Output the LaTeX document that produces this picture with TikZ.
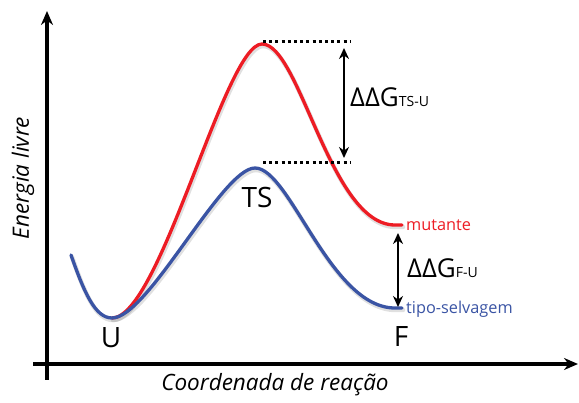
\documentclass[tikz,border=0pt]{standalone}
\usepackage{fontspec}
\setmainfont{Open Sans}
\usetikzlibrary{arrows.meta}
\definecolor{curvered}{RGB}{237,28,36}
\definecolor{curveblue}{RGB}{58,84,164}
\begin{document}
\begin{tikzpicture}[x=1pt,y=-1pt,
  axis/.style={line width=3.2pt,-{Stealth[length=14pt,width=12pt]}},
  dim/.style={line width=2.8pt,{Stealth[length=11pt,width=10pt]}-{Stealth[length=11pt,width=10pt]}},
  guide/.style={line width=3pt,dash pattern=on 3pt off 3.2pt},
  curve/.style={line width=3.3pt,line cap=round,line join=round},
  shade/.style={line width=4.5pt,black,opacity=0.12,line cap=round},
  big/.style={font=\fontsize{28}{30}\selectfont,inner sep=0pt},
  small/.style={font=\fontsize{16.3}{18}\selectfont,inner sep=0pt},
  axlabel/.style={font=\fontsize{22.5}{24}\selectfont\itshape,inner sep=0pt}]
\useasboundingbox (0,0) rectangle (579,403);
% axes
\coordinate (yb) at (47,380);
\coordinate (yt) at (47,11);
\coordinate (xl) at (33,364);
\coordinate (xr) at (578,364);
\draw[axis] (yb) -- (yt);
\draw[axis] (xl) -- (xr);
% shadows
\begin{scope}[shift={(1,2)}]
\draw[shade] (112,318) .. controls (160,318) and (225,44) .. (262,44)
   .. controls (300,44) and (330,225) .. (395,225) -- (402,225);
\draw[shade] (71,255) .. controls (84,292) and (95,318) .. (112,318)
   .. controls (148,318) and (222,168) .. (255,168)
   .. controls (290,168) and (330,308) .. (395,308) -- (402,308);
\end{scope}
% curves
\draw[curve,curvered] (112,318) .. controls (160,318) and (225,44) .. (262,44)
   .. controls (300,44) and (330,225) .. (395,225) -- (402,225);
\draw[curve,curveblue] (71,255) .. controls (84,292) and (95,318) .. (112,318)
   .. controls (148,318) and (222,168) .. (255,168)
   .. controls (290,168) and (330,308) .. (395,308) -- (402,308);
% guides
\coordinate (g1a) at (263,42);
\coordinate (g1b) at (350,42);
\coordinate (g2a) at (263,163);
\coordinate (g2b) at (350,163);
\draw[guide] (g1a) -- (g1b);
\draw[guide] (g2a) -- (g2b);
% dimension arrows
\coordinate (d1a) at (344,48);
\coordinate (d1b) at (344,158);
\coordinate (d2a) at (398,233);
\coordinate (d2b) at (398,307);
\draw[dim] (d1a) -- (d1b);
\draw[dim] (d2a) -- (d2b);
% labels
\node[big] (ts) at (257,198) {TS};
\node[big] (u) at (111,338) {U};
\node[big] (f) at (401,337) {F};
\node[small,text=curvered,anchor=base west] (mut) at (406,231) {mutante};
\node[small,text=curveblue,anchor=base west] (wt) at (406,314) {tipo-selvagem};
\node[inner sep=0pt,anchor=base west] (ddg1) at (350,107)
  {{\fontsize{26}{28}\selectfont ΔΔG}{\fontsize{14}{16}\selectfont TS-U}};
\node[inner sep=0pt,anchor=base west] (ddg2) at (407,278)
  {{\fontsize{26}{28}\selectfont ΔΔG}{\fontsize{14}{16}\selectfont F-U}};
\node[axlabel] (xlab) at (275,385) {Coordenada de reação};
\node[axlabel,rotate=90] (ylab) at (23,178) {Energia livre};
\end{tikzpicture}
\end{document}
